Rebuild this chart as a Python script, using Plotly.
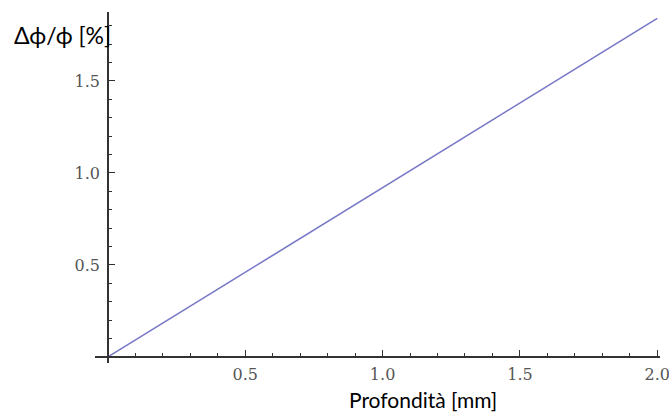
import plotly.graph_objects as go

depth_mm = [0.0, 0.5, 1.0, 1.5, 2.0]
delta_phi_pct = [0.0, 0.46, 0.92, 1.38, 1.84]

x_tickvals = [0.5, 1.0, 1.5, 2.0]
x_ticktext = ["0.5", "1.0", "1.5", "2.0"]
y_tickvals = [0.5, 1.0, 1.5]
y_ticktext = ["0.5", "1.0", "1.5"]

xr = [-0.047, 2.010]
yr = [-0.033, 1.875]

L, R, T, B = 95, 9, 12, 49
W, H = 669, 412
pw, ph = W - L - R, H - T - B

fig = go.Figure()
fig.add_trace(go.Scatter(x=depth_mm, y=delta_phi_pct, mode="lines",
                         line=dict(color="#7878c8", width=1.6),
                         showlegend=False, hoverinfo="skip"))

tickfont = dict(family="DejaVu Serif", size=16, color="#555555")
fig.update_layout(
    template="none",
    width=W, height=H,
    margin=dict(l=L, r=R, t=T, b=B, autoexpand=False),
    paper_bgcolor="white", plot_bgcolor="white",
    xaxis=dict(range=xr, anchor="free", automargin=False,
               position=(0 - yr[0]) / (yr[1] - yr[0]),
               showline=True, linecolor="#333333", linewidth=1.5,
               showgrid=False, zeroline=False,
               tickmode="array", tickvals=x_tickvals, ticktext=x_ticktext,
               ticks="inside", ticklen=6, tickwidth=1.2, tickcolor="#333333",
               minor=dict(dtick=0.1, tick0=0, ticks="inside", ticklen=3,
                          tickwidth=1.2, tickcolor="#333333", showgrid=False),
               tickfont=tickfont, ticklabelstandoff=3,
               ticklabeloverflow="allow"),
    yaxis=dict(range=yr, anchor="free", automargin=False,
               position=(0 - xr[0]) / (xr[1] - xr[0]),
               showline=True, linecolor="#333333", linewidth=1.5,
               showgrid=False, zeroline=False,
               tickmode="array", tickvals=y_tickvals, ticktext=y_ticktext,
               ticks="inside", ticklen=6, tickwidth=1.2, tickcolor="#333333",
               minor=dict(dtick=0.1, tick0=0, ticks="inside", ticklen=3,
                          tickwidth=1.2, tickcolor="#333333", showgrid=False),
               tickfont=tickfont, ticklabelstandoff=4,
               ticklabeloverflow="allow"),
    annotations=[
        dict(text="Profondità [mm]", xref="paper", yref="paper",
             x=(423 - L) / pw, y=(H - 399 - B) / ph,
             xanchor="center", yanchor="middle", showarrow=False,
             font=dict(family="Lato", size=21, color="black")),
        dict(text="Δϕ/ϕ [%]", xref="paper", yref="paper",
             x=(12 - L) / pw, y=(H - 35 - B) / ph,
             xanchor="left", yanchor="middle", showarrow=False,
             font=dict(family="Lato", size=23, color="black")),
    ],
)

fig.write_html("out.html", config={"displayModeBar": False},
               post_script="document.body.style.margin='0';document.body.style.overflow='hidden';")
